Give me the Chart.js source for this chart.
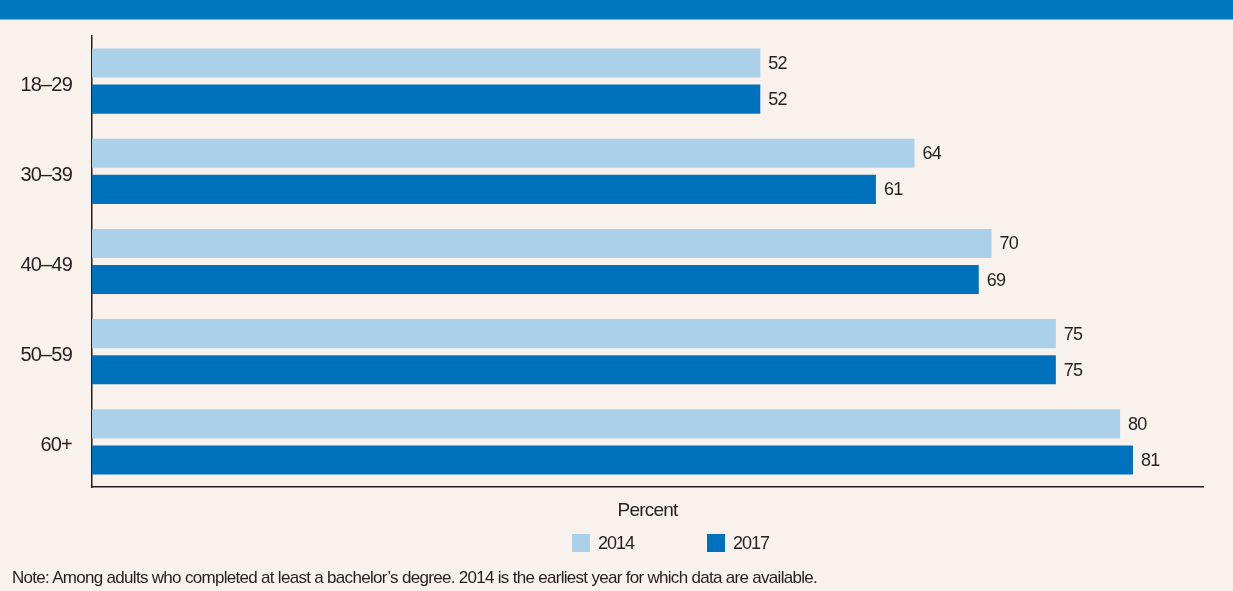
<!DOCTYPE html>
<html>
<head>
<meta charset="utf-8">
<script src="https://cdn.jsdelivr.net/npm/chart.js@4.4.1/dist/chart.umd.min.js"></script>
<style>
  html, body { margin: 0; padding: 0; }
  body {
    width: 1233px;
    height: 591px;
    position: relative;
    overflow: hidden;
    background: #f9f2ec;
    font-family: 'Liberation Sans', Arial, sans-serif;
    color: #231f20;
  }
  #banner {
    position: absolute; left: 0; top: 0; width: 1233px; height: 19px;
    background: #0078bf; border-bottom: 1px solid #7fb4dc;
  }
  #chartWrap { position: absolute; left: 0; top: 0; width: 1233px; height: 591px; }
  .legend-item {
    position: absolute; top: 534px; height: 18px;
    display: flex; align-items: center;
    font-size: 18px; letter-spacing: -1px;
  }
  .legend-item span.box { width: 18px; height: 18px; display: inline-block; margin-right: 8px; }
  #note {
    position: absolute; left: 12px; top: 568px;
    font-size: 17px; letter-spacing: -0.7px; white-space: nowrap;
  }
</style>
</head>
<body>
<div id="banner"></div>
<div id="chartWrap"><canvas id="chart" width="1233" height="591"></canvas></div>
<div class="legend-item" style="left:572px"><span class="box" style="background:#abd0ea"></span>2014</div>
<div class="legend-item" style="left:707px"><span class="box" style="background:#0071bc"></span>2017</div>
<div id="note">Note: Among adults who completed at least a bachelor’s degree. 2014 is the earliest year for which data are available.</div>

<script>
// Age groups and shares (percent)
const ageGroups = ['18–29', '30–39', '40–49', '50–59', '60+']
const values2014 = [52, 64, 70, 75, 80]
const values2017 = [52, 61, 69, 75, 81]

const textColor = '#231f20'
const fontFamily = "'Liberation Sans', Arial, sans-serif"

// Tighter letter spacing for every canvas label (the axis ticks and title too)
const tightText = {
  id: 'tightText',
  beforeDraw(chart) {
    chart.ctx.letterSpacing = '-0.8px'
  }
}

// Writes each bar's value just past its end
const valueLabels = {
  id: 'valueLabels',
  afterDatasetsDraw(chart) {
    const ctx = chart.ctx
    ctx.save()
    ctx.font = `18px ${fontFamily}`
    ctx.fillStyle = textColor
    ctx.textAlign = 'left'
    ctx.textBaseline = 'middle'
    chart.data.datasets.forEach((ds, i) => {
      chart.getDatasetMeta(i).data.forEach((bar, j) => {
        ctx.fillText(String(ds.data[j]), bar.x + 8, bar.y + 1)
      })
    })
    ctx.restore()
  }
}

const ctx = document.getElementById('chart').getContext('2d')
new Chart(ctx, {
  type: 'bar',
  data: {
    labels: ageGroups,
    datasets: [
      { label: '2014', data: values2014, backgroundColor: '#abd0ea' },
      { label: '2017', data: values2017, backgroundColor: '#0071bc' }
    ]
  },
  options: {
    indexAxis: 'y',
    responsive: false,
    animation: false,
    categoryPercentage: 0.8,
    barPercentage: 0.806,
    layout: { padding: { top: 36, right: 30, bottom: 0, left: 0 } },
    plugins: {
      legend: { display: false },
      tooltip: { enabled: false }
    },
    scales: {
      x: {
        min: 0,
        max: 86.45,
        grid: { display: false, drawTicks: false },
        border: { display: true, color: textColor, width: 1.5 },
        ticks: { display: false },
        title: {
          display: true,
          text: 'Percent',
          color: textColor,
          font: { family: fontFamily, size: 19 },
          padding: { top: 0, bottom: 69 }
        },
        afterFit(scale) { scale.height = 104 }
      },
      y: {
        grid: { display: false, drawTicks: false },
        border: { display: true, color: textColor, width: 1.5 },
        ticks: {
          color: textColor,
          padding: 20,
          labelOffset: 4,
          font: { family: fontFamily, size: 20 }
        },
        afterFit(scale) { scale.width = 92 }
      }
    }
  },
  plugins: [tightText, valueLabels]
})
</script>
</body>
</html>
